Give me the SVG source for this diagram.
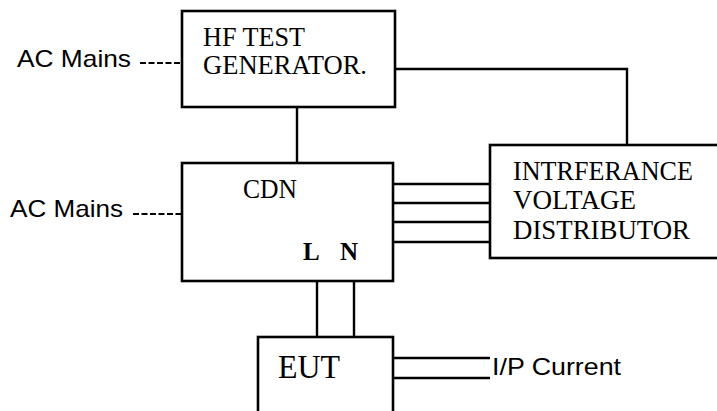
<svg xmlns="http://www.w3.org/2000/svg" width="717" height="411" viewBox="0 0 717 411">
<style>
.box{fill:#fff;stroke:#000;stroke-width:2.6}
.ln{fill:none;stroke:#000;stroke-width:2.4}
.dash{fill:none;stroke:#000;stroke-width:2;stroke-dasharray:6 2.5}
.serif{font-family:"Liberation Serif","Times New Roman",serif;fill:#000}
.sans{font-family:"Liberation Sans",Arial,sans-serif;fill:#000}
</style>
<rect width="717" height="411" fill="#fff"/>
<g id="connectors">
<path class="ln" d="M395 69 H627 V145"/>
<path class="ln" d="M297 107 V163"/>
<path class="ln" d="M393 184 H490 M393 203 H490 M393 222 H490 M393 242 H490"/>
<path class="ln" d="M317 281 V337 M354 281 V337"/>
<path class="ln" d="M393 358 H490 M393 378 H490"/>
<path class="dash" d="M140 63 H182"/>
<path class="dash" d="M133 214 H182"/>
</g>
<g id="ac-mains-1">
<text class="sans" x="17" y="67" font-size="24" textLength="114" lengthAdjust="spacingAndGlyphs">AC Mains</text>
</g>
<g id="ac-mains-2">
<text class="sans" x="10" y="217" font-size="24" textLength="113" lengthAdjust="spacingAndGlyphs">AC Mains</text>
</g>
<g id="hf-test-generator">
<rect class="box" x="182" y="11" width="213" height="96"/>
<text class="serif" font-size="27.5"><tspan x="203" y="46" textLength="102" lengthAdjust="spacingAndGlyphs">HF TEST</tspan><tspan x="203" y="74" textLength="164" lengthAdjust="spacingAndGlyphs">GENERATOR.</tspan></text>
</g>
<g id="cdn">
<rect class="box" x="182" y="163" width="211" height="118"/>
<text class="serif" x="243" y="198" font-size="27" textLength="54" lengthAdjust="spacingAndGlyphs">CDN</text>
<text class="serif" x="303" y="260" font-size="25" font-weight="bold">L</text>
<text class="serif" x="340" y="260" font-size="25" font-weight="bold">N</text>
</g>
<g id="interference-voltage-distributor">
<rect class="box" x="490" y="145" width="232" height="113"/>
<text class="serif" font-size="27.5"><tspan x="513" y="180" textLength="180" lengthAdjust="spacingAndGlyphs">INTRFERANCE</tspan><tspan x="513" y="209" textLength="123" lengthAdjust="spacingAndGlyphs">VOLTAGE</tspan><tspan x="513" y="239" textLength="177" lengthAdjust="spacingAndGlyphs">DISTRIBUTOR</tspan></text>
</g>
<g id="eut">
<rect class="box" x="258" y="337" width="135" height="90"/>
<text class="serif" x="278" y="378" font-size="33" textLength="62" lengthAdjust="spacingAndGlyphs">EUT</text>
</g>
<g id="ip-current">
<text class="sans" x="492" y="375" font-size="24" textLength="129" lengthAdjust="spacingAndGlyphs">I/P Current</text>
</g>
</svg>
